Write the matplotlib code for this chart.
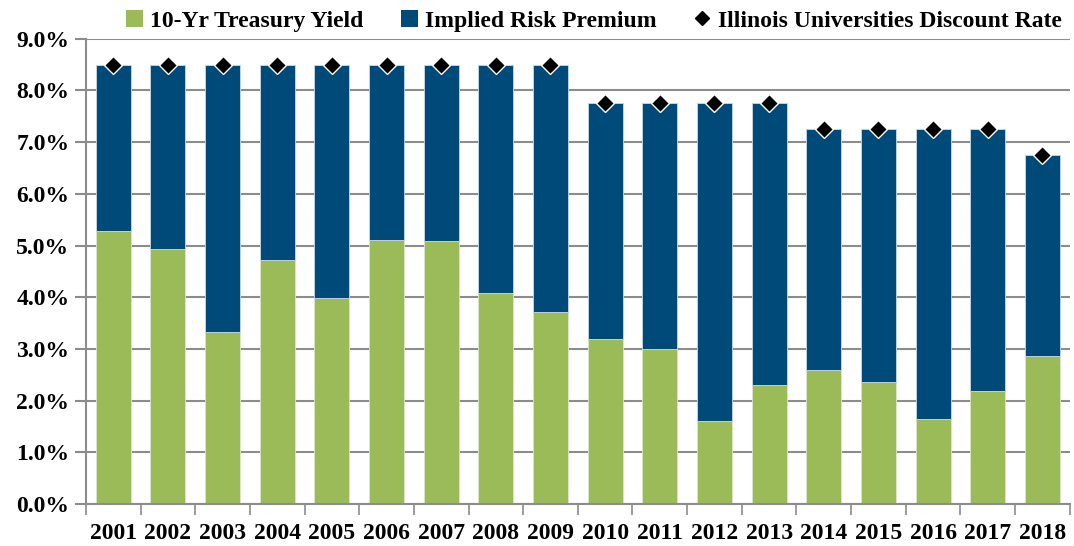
import numpy as np
import matplotlib.pyplot as plt
from matplotlib.ticker import FuncFormatter
from matplotlib.lines import Line2D
from matplotlib.patches import Patch

plt.rcParams['font.family'] = 'Liberation Serif'
plt.rcParams['font.weight'] = 'bold'

years = ['2001', '2002', '2003', '2004', '2005', '2006', '2007', '2008', '2009',
         '2010', '2011', '2012', '2013', '2014', '2015', '2016', '2017', '2018']
treasury = [5.28, 4.93, 3.32, 4.72, 3.99, 5.10, 5.09, 4.09, 3.71,
            3.19, 2.99, 1.61, 2.30, 2.59, 2.35, 1.64, 2.18, 2.86]
discount = [8.50, 8.50, 8.50, 8.50, 8.50, 8.50, 8.50, 8.50, 8.50,
            7.75, 7.75, 7.75, 7.75, 7.25, 7.25, 7.25, 7.25, 6.75]
premium = [d - t for d, t in zip(discount, treasury)]

green = '#9BBB59'
blue = '#004A7A'
grid_c = '#8C8C8C'

fig = plt.figure(figsize=(10.74, 5.46), dpi=100)
ax = fig.add_axes([0.080, 0.077, 0.916, 0.852])

x = np.arange(len(years))
ax.bar(x, treasury, width=0.64, color=green, edgecolor='#DDE8C8', linewidth=0.6, zorder=2)
ax.bar(x, premium, width=0.64, bottom=treasury, color=blue, edgecolor='#C9D9E6',
       linewidth=0.6, zorder=2)
ax.plot(x, discount, linestyle='none', marker='D', markersize=9, color='black',
        markeredgecolor='white', markeredgewidth=1.0, zorder=3)

ax.set_xlim(-0.5, len(years) - 0.5)
ax.set_ylim(0, 9)
ax.set_yticks(np.arange(0, 9.01, 1))
ax.yaxis.set_major_formatter(FuncFormatter(lambda v, p: f'{v:.1f}%'))
ax.grid(axis='y', color=grid_c, linewidth=1.5, zorder=0)
ax.set_axisbelow(True)

# category labels centred, tick marks at the boundaries
ax.set_xticks(x)
ax.set_xticklabels(years)
ax.set_xticks(np.arange(-0.5, len(years)), minor=True)
ax.tick_params(axis='x', which='major', length=0, pad=14, labelsize=17)
ax.tick_params(axis='x', which='minor', length=8, color=grid_c, width=1.2)
ax.tick_params(axis='y', length=8, color=grid_c, width=1.5, labelsize=17, pad=4)

for s in ['top', 'right']:
    ax.spines[s].set_visible(False)
for s in ['left', 'bottom']:
    ax.spines[s].set_color(grid_c)
    ax.spines[s].set_linewidth(1.5)

handles = [Patch(facecolor=green, label='10-Yr Treasury Yield'),
           Patch(facecolor=blue, label='Implied Risk Premium'),
           Line2D([], [], linestyle='none', marker='D', markersize=7, color='black',
                  label='Illinois Universities Discount Rate')]
fig.legend(handles=handles, loc='center', bbox_to_anchor=(0.553, 0.962), ncol=3,
           frameon=False, fontsize=17, handlelength=0.7, handleheight=0.7,
           handletextpad=0.3, columnspacing=1.6, borderaxespad=0)

fig.savefig('out.png', dpi=100)
